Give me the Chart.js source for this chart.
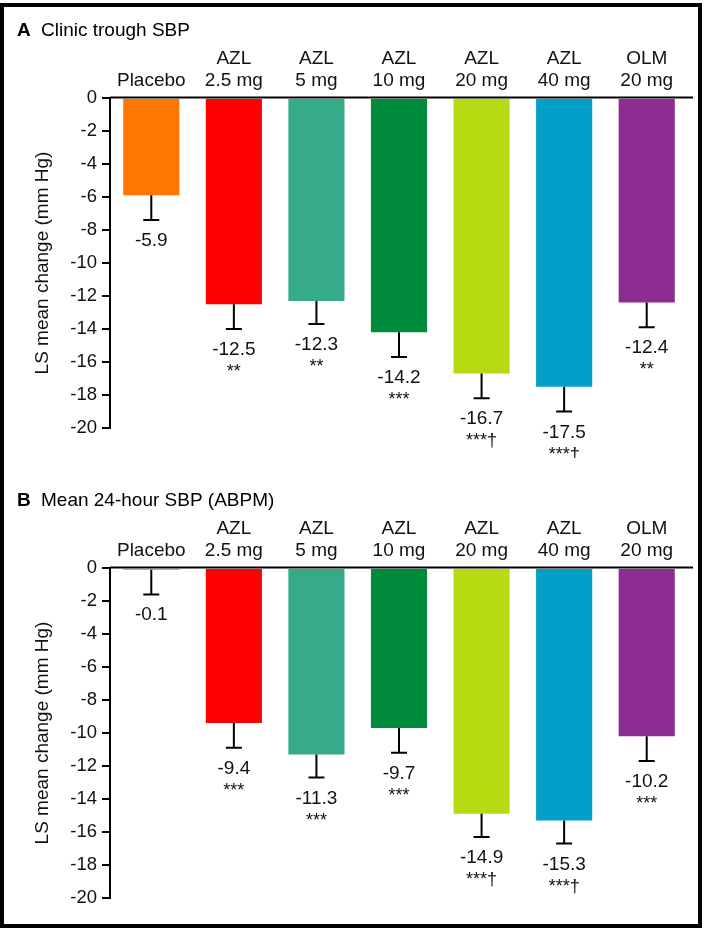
<!DOCTYPE html>
<html>
<head>
<meta charset="utf-8">
<script src="https://cdn.jsdelivr.net/npm/chart.js@4/dist/chart.umd.min.js"></script>
<style>
  body { margin: 0; background: #fff; }
  #frame { position: absolute; left: 0; top: 3px; width: 702px; height: 925px; border: 4px solid #000; box-sizing: border-box; }
  canvas { position: absolute; left: 0; }
  #chartA { top: 0; }
  #chartB { top: 470px; }
</style>
</head>
<body>
<div id="frame"></div>
<canvas id="chartA" width="709" height="458"></canvas>
<canvas id="chartB" width="709" height="458"></canvas>
<script>
// data
var groups = [['Placebo'], ['AZL', '2.5 mg'], ['AZL', '5 mg'], ['AZL', '10 mg'], ['AZL', '20 mg'], ['AZL', '40 mg'], ['OLM', '20 mg']];
var barColors = ['#ff7700', '#ff0000', '#36ab8a', '#008a3c', '#b5db12', '#00a0c8', '#8e2d91'];

var clinicValues = [-5.9, -12.5, -12.3, -14.2, -16.7, -17.5, -12.4];
var clinicSE = [1.5, 1.5, 1.4, 1.5, 1.5, 1.5, 1.5];
var clinicStars = ['', '**', '**', '***', '***\u2020', '***\u2020', '**'];

var abpmValues = [-0.1, -9.4, -11.3, -9.7, -14.9, -15.3, -10.2];
var abpmSE = [1.5, 1.5, 1.4, 1.5, 1.4, 1.4, 1.5];
var abpmStars = ['', '***', '***', '***', '***\u2020', '***\u2020', '***'];

var yTicksMin = -20;
var yTicksMax = 0;
var yStep = 2;

var FONT = "'Liberation Sans', Arial, Helvetica, sans-serif";

// zero line under the bars, then error bars, labels and panel title on top
var extras = {
    id: 'extras',
    beforeDatasetsDraw(chart) {
        var ctx = chart.ctx;
        var a = chart.chartArea;
        ctx.save();
        ctx.strokeStyle = '#000';
        ctx.lineWidth = 2;
        ctx.beginPath();
        ctx.moveTo(a.left, a.top - 0.5);
        ctx.lineTo(a.right + 5, a.top - 0.5);
        ctx.stroke();
        ctx.restore();
    },
    afterDatasetsDraw(chart, args, opts) {
        var ctx = chart.ctx;
        var yScale = chart.scales.y;
        var meta = chart.getDatasetMeta(0);
        ctx.save();
        ctx.strokeStyle = '#000';
        ctx.fillStyle = '#111';
        ctx.lineWidth = 2;
        meta.data.forEach((bar, i) => {
            var v = opts.values[i];
            var yEnd = yScale.getPixelForValue(v - opts.se[i]);
            ctx.beginPath();
            ctx.moveTo(bar.x, bar.y);
            ctx.lineTo(bar.x, yEnd);
            ctx.moveTo(bar.x - 8, yEnd);
            ctx.lineTo(bar.x + 8, yEnd);
            ctx.stroke();

            ctx.textAlign = 'center';
            ctx.textBaseline = 'alphabetic';
            ctx.font = '19px ' + FONT;
            ctx.fillText(v.toFixed(1), bar.x, yEnd + 26);
            if (opts.stars[i]) {
                ctx.font = '18px ' + FONT;
                ctx.fillText(opts.stars[i], bar.x, yEnd + 48);
            }
        });

        // panel title
        ctx.textAlign = 'left';
        ctx.font = 'bold 19px ' + FONT;
        ctx.fillStyle = '#000';
        ctx.fillText(opts.letter, 17, 36);
        ctx.font = '19px ' + FONT;
        ctx.fillText(opts.title, 41, 36);
        ctx.restore();
    }
};

function makeChart(id, letter, title, values, se, stars) {
    var config = {
        type: 'bar',
        data: {
            labels: groups,
            datasets: [{
                data: values,
                backgroundColor: barColors,
                borderWidth: 0,
                barPercentage: 0.68,
                categoryPercentage: 1
            }]
        },
        options: {
            responsive: false,
            animation: false,
            devicePixelRatio: 1,
            layout: { padding: { left: 0, right: 21, top: 0, bottom: 30 } },
            plugins: {
                legend: { display: false },
                tooltip: { enabled: false },
                extras: { letter: letter, title: title, values: values, se: se, stars: stars }
            },
            scales: {
                x: {
                    position: 'top',
                    grid: { display: false, drawTicks: false },
                    border: { display: false },
                    ticks: {
                        color: '#111',
                        font: { family: FONT, size: 19, lineHeight: 1.16 },
                        padding: 6,
                        maxRotation: 0,
                        autoSkip: false
                    },
                    afterFit: function (scale) { scale.height = 98; }
                },
                y: {
                    min: yTicksMin,
                    max: yTicksMax,
                    grid: { drawOnChartArea: false, drawTicks: true, tickLength: 8, color: '#000', lineWidth: 2 },
                    border: { display: true, color: '#000', width: 2 },
                    ticks: {
                        stepSize: yStep,
                        color: '#111',
                        padding: 5,
                        font: { family: FONT, size: 18.5 },
                        callback: function (v) { return String(v); }
                    },
                    title: {
                        display: true,
                        text: 'LS mean change (mm Hg)',
                        color: '#111',
                        font: { family: FONT, size: 19 },
                        padding: { top: 31, bottom: 0 }
                    },
                    afterFit: function (scale) { scale.width = 110; }
                }
            }
        },
        plugins: [extras]
    };
    return new Chart(document.getElementById(id), config);
}

makeChart('chartA', 'A', 'Clinic trough SBP', clinicValues, clinicSE, clinicStars);
makeChart('chartB', 'B', 'Mean 24-hour SBP (ABPM)', abpmValues, abpmSE, abpmStars);
</script>
</body>
</html>
